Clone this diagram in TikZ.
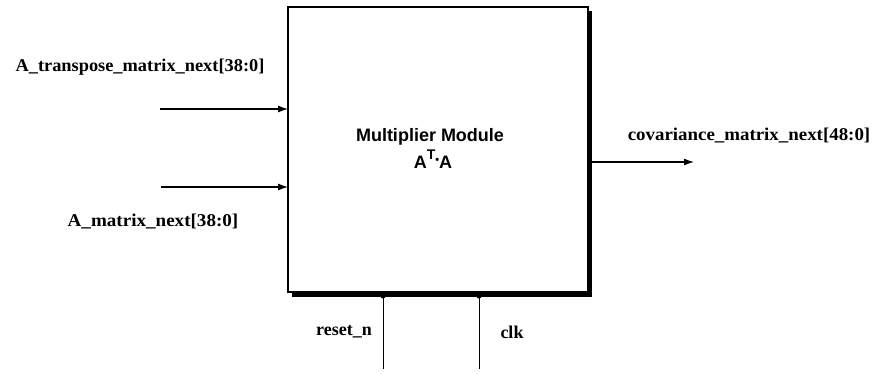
\documentclass[tikz,border=0pt]{standalone}
\usepackage{fontspec}
\setmainfont{Liberation Serif}
\newfontfamily\boxfont{Liberation Sans}
\usetikzlibrary{arrows.meta}
\begin{document}
\begin{tikzpicture}[x=1pt,y=-1pt,
  sig/.style={font=\bfseries\fontsize{18}{20}\selectfont, inner sep=0pt, anchor=center},
  wire/.style={line width=1.1pt},
  inwire/.style={wire,-{Latex[length=10pt,width=7pt]}},
]
\useasboundingbox (0,0) rectangle (878,373);
% shadow
\fill[black] (292,11) rectangle (592,297);
\node[draw, line width=1.8pt, fill=white, minimum width=300pt, minimum height=285pt, inner sep=0pt] (mod) at (438,149.5) {};
\node[font=\boxfont\bfseries\fontsize{18}{20}\selectfont, inner sep=0pt] (lbl) at (430,137) {Multiplier Module};
\node[font=\boxfont\bfseries\fontsize{18}{20}\selectfont, inner sep=0pt, anchor=base] (lbl2) at (433,168) {A\raisebox{0.45em}{\fontsize{14}{14}\selectfont T}\raisebox{0.25em}{\fontsize{11}{11}\selectfont\textbullet}A};
% inputs
\coordinate (in1) at (160,109);
\coordinate (in2) at (161,187);
\coordinate (m1) at (288,109);
\coordinate (m2) at (288,187);
\draw[inwire] (in1) -- (m1);
\draw[inwire] (in2) -- (m2);
\node[sig] (l1) at (140,67) {\scalebox{1.02}[1]{A\_transpose\_matrix\_next[38:0]}};
\node[sig] (l2) at (153,222) {\scalebox{1.06}[1]{A\_matrix\_next[38:0]}};
% output
\coordinate (o1) at (588,162);
\coordinate (o2) at (694,162);
\draw[inwire] (o1) -- (o2);
\node[sig] (l3) at (749,136) {\scalebox{1.05}[1]{covariance\_matrix\_next[48:0]}};
% bottom
\coordinate (r1) at (383,296);
\coordinate (r2) at (383,369);
\coordinate (c1) at (479,296);
\coordinate (c2) at (479,369);
\draw[line width=0.9pt] (r1) -- (r2);
\draw[line width=0.9pt] (c1) -- (c2);
\fill (r1) circle (2.5pt);
\fill (c1) circle (2.5pt);
\node[sig] (l4) at (344,332) {reset\_n};
\node[sig] (l5) at (512,332) {clk};
\end{tikzpicture}
\end{document}
